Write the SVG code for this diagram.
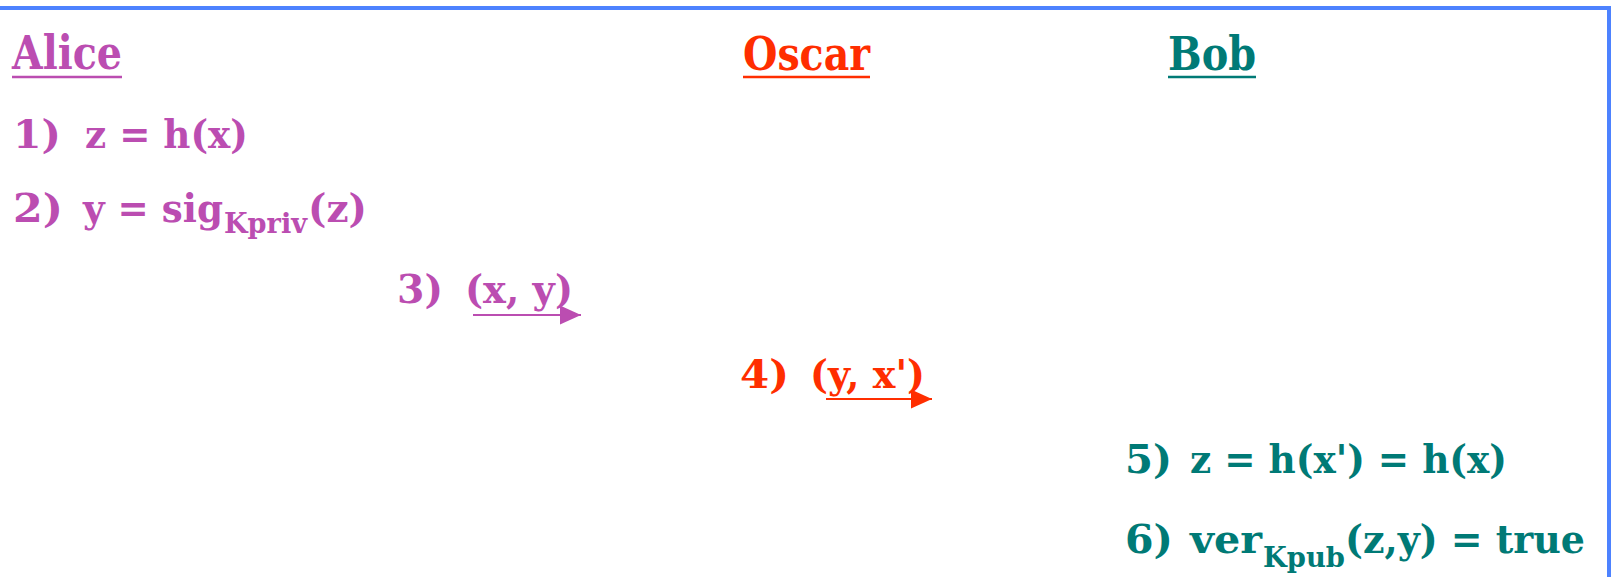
<svg xmlns="http://www.w3.org/2000/svg" width="1613" height="577" viewBox="0 0 1613 577">
<style>
text{font-family:"DejaVu Serif","Liberation Serif",serif;font-weight:bold;font-size:40px}
.hd{font-size:46px}
.sub{font-size:28px}
.a{fill:#BB4DB1}
.o{fill:#FF2E00}
.b{fill:#007A76}
.ul{stroke-width:2.5}
.la{stroke:#BB4DB1}
.lo{stroke:#FF2E00}
.lb{stroke:#007A76}
.border{stroke:#4D82FF;stroke-width:4;fill:none}
.conn{stroke-width:2;fill:none}
</style>
<defs>
<marker id="mA" markerUnits="userSpaceOnUse" markerWidth="22" markerHeight="20" refX="21" refY="9.5" orient="auto"><path d="M0,0 L21,9.5 L0,19 z" fill="#BB4DB1"/></marker>
<marker id="mO" markerUnits="userSpaceOnUse" markerWidth="22" markerHeight="20" refX="21" refY="9.5" orient="auto"><path d="M0,0 L21,9.5 L0,19 z" fill="#FF2E00"/></marker>
</defs>
<rect width="1613" height="577" fill="#ffffff"/>
<path class="border" d="M0,8 H1609 V577"/>
<g id="alice">
<text class="hd a" x="12" y="69" textLength="110" lengthAdjust="spacingAndGlyphs">Alice</text>
<line class="ul la" x1="12" y1="77" x2="122" y2="77"/>
</g>
<g id="oscar">
<text class="hd o" x="743" y="70" textLength="127" lengthAdjust="spacingAndGlyphs">Oscar</text>
<line class="ul lo" x1="743" y1="77" x2="870" y2="77"/>
</g>
<g id="bob">
<text class="hd b" x="1168" y="70" textLength="88" lengthAdjust="spacingAndGlyphs">Bob</text>
<line class="ul lb" x1="1168" y1="77" x2="1256" y2="77"/>
</g>
<g id="step1">
<text class="a" x="13" y="148" textLength="48" lengthAdjust="spacingAndGlyphs">1)</text>
<text class="a" x="85" y="148" textLength="163" lengthAdjust="spacingAndGlyphs">z = h(x)</text>
</g>
<g id="step2">
<text class="a" x="13" y="222" textLength="50" lengthAdjust="spacingAndGlyphs">2)</text>
<text class="a" x="83" y="222" textLength="140" lengthAdjust="spacingAndGlyphs">y = sig</text>
<text class="a sub" x="224" y="233" textLength="83" lengthAdjust="spacingAndGlyphs">Kpriv</text>
<text class="a" x="308" y="222" textLength="59" lengthAdjust="spacingAndGlyphs">(z)</text>
</g>
<g id="step3">
<text class="a" x="397" y="303" textLength="46" lengthAdjust="spacingAndGlyphs">3)</text>
<text class="a" x="465" y="303" textLength="108" lengthAdjust="spacingAndGlyphs">(x, y)</text>
</g>
<g id="step4">
<text class="o" x="740" y="388" textLength="49" lengthAdjust="spacingAndGlyphs">4)</text>
<text class="o" x="810" y="388" textLength="115" lengthAdjust="spacingAndGlyphs">(y, x')</text>
</g>
<g id="step5">
<text class="b" x="1125" y="473" textLength="47" lengthAdjust="spacingAndGlyphs">5)</text>
<text class="b" x="1190" y="473" textLength="317" lengthAdjust="spacingAndGlyphs">z = h(x') = h(x)</text>
</g>
<g id="step6">
<text class="b" x="1125" y="553" textLength="48" lengthAdjust="spacingAndGlyphs">6)</text>
<text class="b" x="1190" y="553" textLength="72" lengthAdjust="spacingAndGlyphs">ver</text>
<text class="b sub" x="1263" y="567" textLength="82" lengthAdjust="spacingAndGlyphs">Kpub</text>
<text class="b" x="1345" y="553" textLength="240" lengthAdjust="spacingAndGlyphs">(z,y) = true</text>
</g>
<g id="connectors">
<line class="conn la" x1="473" y1="315" x2="581" y2="315" marker-end="url(#mA)"/>
<line class="conn lo" x1="826" y1="399" x2="932" y2="399" marker-end="url(#mO)"/>
</g>
</svg>
